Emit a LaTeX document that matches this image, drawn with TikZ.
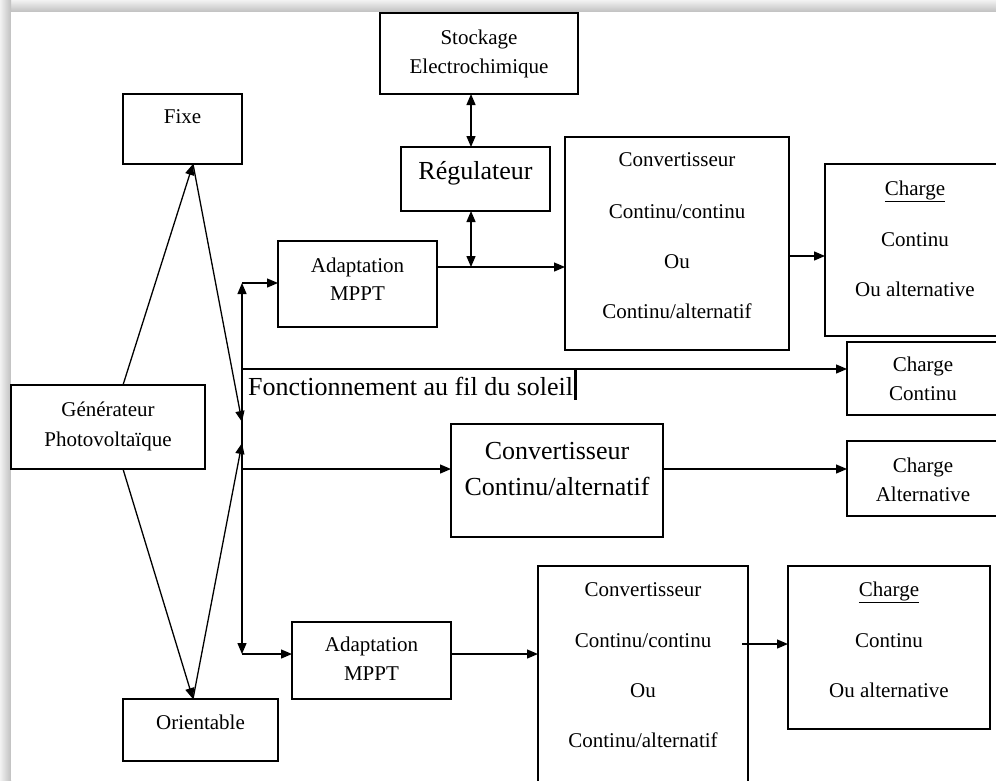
\documentclass[tikz,border=0pt]{standalone}
\usepackage{fontspec}
\setmainfont{Liberation Serif}
\usetikzlibrary{arrows.meta,calc}
\begin{document}
\begin{tikzpicture}[x=1pt,y=-1pt,
  box/.style={draw, line width=1.4pt, inner sep=0pt, outer sep=0pt, rectangle},
  sm/.style={font=\fontsize{21}{25}\selectfont, inner sep=0pt, anchor=base},
  lg/.style={font=\fontsize{26}{30}\selectfont, inner sep=0pt, anchor=base},
  conn/.style={line width=1.3pt},
  arr/.style={conn, -{Triangle[length=11pt,width=9pt]}},
  darr/.style={conn, {Triangle[length=11pt,width=9pt]}-{Triangle[length=11pt,width=9pt]}}]
\useasboundingbox (0,0) rectangle (996,780);
\clip (0,0) rectangle (996,780);
% background / shadow frame
\fill[white] (0,0) rectangle (996,780);
\shade[top color=gray!10, bottom color=gray!50] (0,0) rectangle (996,12);
\shade[left color=gray!10, right color=gray!50] (0,0) rectangle (11,780);
\fill[white] (11,12) rectangle (996,780);

% boxes
\node[box, minimum width=194pt, minimum height=84pt] (gen) at (108,427) {};
\node[box, minimum width=119pt, minimum height=70pt] (fixe) at (182.5,129) {};
\node[box, minimum width=155pt, minimum height=62pt] (orient) at (200.5,730) {};
\node[box, minimum width=198pt, minimum height=81pt] (stock) at (479,53.5) {};
\node[box, minimum width=149pt, minimum height=64pt] (regul) at (475.5,179) {};
\node[box, minimum width=159pt, minimum height=86pt] (adapt1) at (357.5,284) {};
\node[box, minimum width=224pt, minimum height=213pt] (conv1) at (677,243.5) {};
\node[box, minimum width=177pt, minimum height=172pt] (charge1) at (913.5,250) {};
\node[box, minimum width=155pt, minimum height=73pt] (charge2) at (924.5,378.5) {};
\node[box, minimum width=212pt, minimum height=113pt] (convCA) at (557,480.5) {};
\node[box, minimum width=155pt, minimum height=75pt] (charge3) at (924.5,478.5) {};
\node[box, minimum width=159pt, minimum height=77pt] (adapt2) at (371.5,660.5) {};
\node[box, minimum width=210pt, minimum height=234pt] (conv2) at (643,683) {};
\node[box, minimum width=202pt, minimum height=163pt] (charge4) at (889,647.5) {};

% texts
\node[sm] (tgen1) at (108,416) {Générateur};
\node[sm] (tgen2) at (108,446) {Photovoltaïque};
\node[sm] (tfixe) at (182.5,123) {Fixe};
\node[sm] (torient) at (200.5,729) {Orientable};
\node[sm] (tstock1) at (479,44) {Stockage};
\node[sm] (tstock2) at (479,73) {Electrochimique};
\node[lg] (tregul) at (475.5,179) {Régulateur};
\node[sm] (tad1a) at (357.5,272) {Adaptation};
\node[sm] (tad1b) at (357.5,300) {MPPT};
\node[sm] (tc1a) at (677,166) {Convertisseur};
\node[sm] (tc1b) at (677,218) {Continu/continu};
\node[sm] (tc1c) at (677,268) {Ou};
\node[sm] (tc1d) at (677,318) {Continu/alternatif};
\node[sm] (tch1a) at (915,195) {\underline{Charge}};
\node[sm] (tch1b) at (915,246) {Continu};
\node[sm] (tch1c) at (915,296) {Ou alternative};
\node[sm] (tch2a) at (923,371) {Charge};
\node[sm] (tch2b) at (923,400) {Continu};
\node[lg, anchor=base west] (tfonc) at (248,395) {Fonctionnement au fil du soleil};
\node[lg] (tca1) at (557,459) {Convertisseur};
\node[lg] (tca2) at (557,495) {Continu/alternatif};
\node[sm] (tch3a) at (923,472) {Charge};
\node[sm] (tch3b) at (923,501) {Alternative};
\node[sm] (tad2a) at (371.5,651) {Adaptation};
\node[sm] (tad2b) at (371.5,680) {MPPT};
\node[sm] (tc2a) at (643,596) {Convertisseur};
\node[sm] (tc2b) at (643,647) {Continu/continu};
\node[sm] (tc2c) at (643,697) {Ou};
\node[sm] (tc2d) at (643,747) {Continu/alternatif};
\node[sm] (tch4a) at (889,596) {\underline{Charge}};
\node[sm] (tch4b) at (889,647) {Continu};
\node[sm] (tch4c) at (889,697) {Ou alternative};

% text cursor bar
\draw[line width=2.6pt] (575.5,368) -- (575.5,400);

% junction coordinates
\coordinate (jtop) at (242,283);
\coordinate (jbot) at (242,654);
\coordinate (jfix) at (242,422);
\coordinate (jori) at (242,443);
\coordinate (jsol) at (242,369);
\coordinate (jca) at (242,469);
\coordinate (r1) at (471,267);
\coordinate (c1) at (789,256);
\coordinate (c2) at (742,644);

% generator to Fixe / Orientable
\draw[arr] ([xshift=15pt]gen.north) -- ([xshift=10.5pt]fixe.south);
\draw[arr] ([xshift=15pt]gen.south) -- ([xshift=-7.5pt]orient.north);
\draw[arr] ([xshift=10.5pt]fixe.south) -- (jfix);
\draw[arr] ([xshift=-7.5pt]orient.north) -- (jori);

% vertical bus
\draw[darr] (jtop) -- (jbot);
\draw[arr] (jtop) -- (adapt1.west |- jtop);
\draw[arr] (jbot) -- (adapt2.west |- jbot);
\draw[arr] (jsol) -- (charge2.west |- jsol);
\draw[arr] (jca) -- (convCA.west |- jca);

% top chain
\draw[conn] (adapt1.east |- r1) -- (r1);
\draw[arr] (r1) -- (conv1.west |- r1);
\draw[darr] (regul.south -| r1) -- (r1);
\draw[darr] (stock.south -| r1) -- (regul.north -| r1);
\draw[arr] (c1) -- (charge1.west |- c1);

% middle
\draw[arr] (convCA.east |- jca) -- (charge3.west |- jca);

% bottom chain
\draw[arr] (adapt2.east |- jbot) -- (conv2.west |- jbot);
\draw[arr] (c2) -- (charge4.west |- c2);
\end{tikzpicture}
\end{document}
